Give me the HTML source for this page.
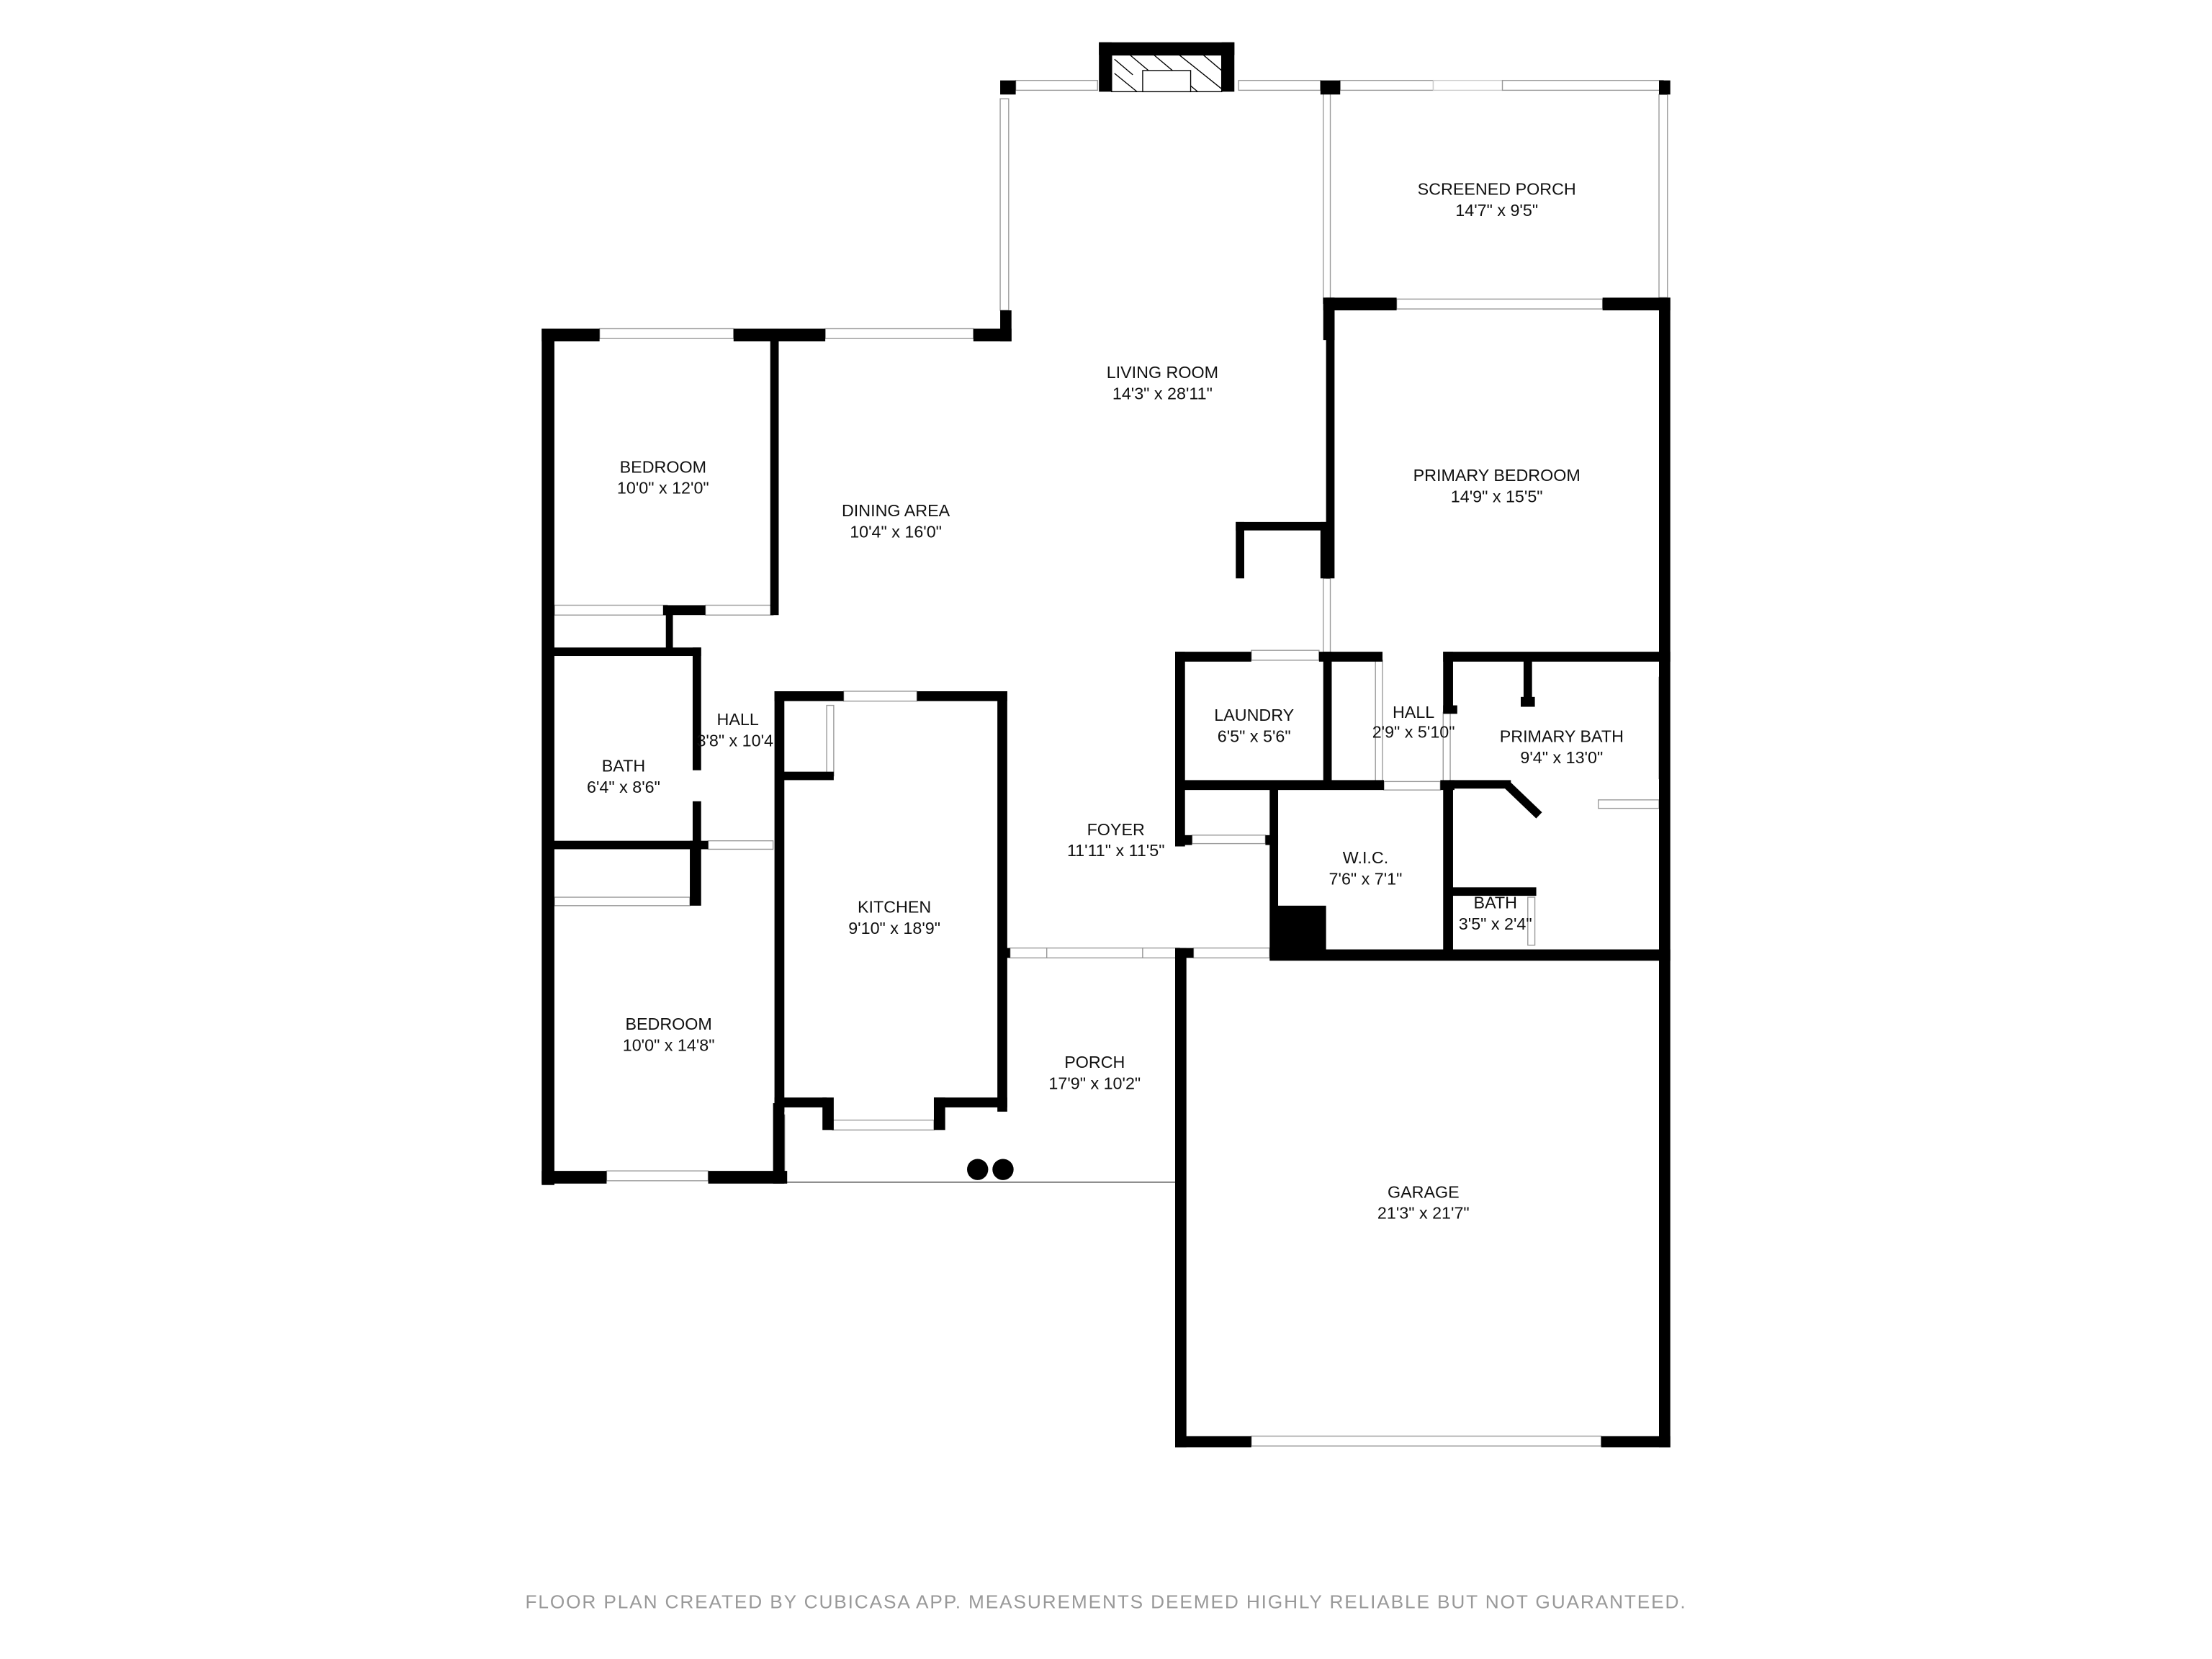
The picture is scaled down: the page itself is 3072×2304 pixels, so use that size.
<!DOCTYPE html>
<html><head><meta charset="utf-8"><style>
html,body{margin:0;padding:0;background:#fff;}
svg{display:block;}
text{font-family:"Liberation Sans",Arial,sans-serif;fill:#111;}
</style></head><body>
<svg width="3072" height="2304" viewBox="0 0 1568 1176" preserveAspectRatio="none" xmlns="http://www.w3.org/2000/svg">
<rect width="1568" height="1176" fill="#fff"/>
<g fill="#fff" stroke="#999" stroke-width="0.7">
<rect x="720" y="57" width="58" height="7"/><rect x="878" y="57" width="58" height="7"/>
<rect x="950" y="57" width="66" height="7"/><rect x="1016" y="57" width="49" height="7" stroke="#ccc"/><rect x="1065" y="57" width="114" height="7"/>
<rect x="709" y="70" width="6" height="150"/>
<rect x="1176" y="67" width="6" height="144"/>
<rect x="990" y="212" width="146" height="7"/>
<rect x="425" y="233" width="95" height="7"/><rect x="585" y="233" width="105" height="7"/>
<rect x="393" y="429" width="80" height="7"/><rect x="500" y="429" width="48" height="7"/>
<rect x="386" y="527" width="6" height="39"/>
<rect x="502" y="596" width="46" height="6"/>
<rect x="393" y="636" width="96" height="6"/>
<rect x="598" y="490" width="52" height="7"/><rect x="586" y="500" width="5" height="50"/>
<rect x="590" y="794" width="72" height="7"/>
<rect x="430" y="830" width="72" height="7"/>
<rect x="716" y="672" width="26" height="7"/><rect x="742" y="672" width="68" height="7"/><rect x="810" y="672" width="26" height="7"/><rect x="846" y="672" width="54" height="7"/>
<rect x="887" y="461" width="48" height="7"/>
<rect x="845" y="592" width="52" height="6"/>
<rect x="975" y="468" width="5" height="86"/><rect x="1023" y="505" width="5" height="50"/>
<rect x="981" y="554" width="40" height="6"/>
<rect x="1176" y="480" width="6" height="72"/>
<rect x="1133" y="567" width="43" height="6"/>
<rect x="1083" y="636" width="5" height="34"/>
<rect x="887" y="1018" width="248" height="7"/>
<rect x="938" y="65" width="5" height="150"/><rect x="938" y="410" width="5" height="55"/>
</g>
<line x1="556" y1="838" x2="836" y2="838" stroke="#777" stroke-width="1"/>
<line x1="556" y1="790" x2="556" y2="838" stroke="#777" stroke-width="1"/>
<g fill="#000">
<rect x="779" y="30" width="96" height="9"/><rect x="779" y="30" width="9" height="35"/><rect x="866" y="30" width="9" height="35"/>
<rect x="709" y="57" width="11" height="10"/><rect x="936" y="57" width="14" height="10"/><rect x="1176" y="57" width="8" height="10"/>
<rect x="709" y="220" width="8" height="22"/><rect x="690" y="233" width="27" height="9"/>
<rect x="520" y="233" width="65" height="9"/><rect x="384" y="233" width="41" height="9"/>
<rect x="384" y="233" width="9" height="607"/>
<rect x="546" y="233" width="6" height="203"/>
<rect x="470" y="429" width="30" height="7"/><rect x="472" y="429" width="5" height="33"/>
<rect x="389" y="459" width="108" height="6"/>
<rect x="491" y="459" width="6" height="87"/><rect x="491" y="568" width="6" height="34"/>
<rect x="389" y="596" width="113" height="6"/>
<rect x="489" y="596" width="8" height="46"/>
<rect x="384" y="830" width="46" height="9"/><rect x="502" y="830" width="56" height="9"/>
<rect x="548" y="782" width="8" height="57"/>
<rect x="549" y="490" width="49" height="7"/><rect x="650" y="490" width="64" height="7"/>
<rect x="549" y="490" width="7" height="298"/><rect x="707" y="490" width="7" height="298"/>
<rect x="552" y="547" width="39" height="6"/>
<rect x="549" y="778" width="37" height="7"/><rect x="583" y="778" width="8" height="23"/>
<rect x="662" y="778" width="52" height="7"/><rect x="662" y="778" width="8" height="23"/>
<rect x="709" y="672" width="7" height="7"/><rect x="836" y="672" width="10" height="7"/>
<rect x="833" y="672" width="8" height="354"/>
<rect x="900" y="673" width="284" height="8"/>
<rect x="1176" y="211" width="8" height="815"/>
<rect x="833" y="1018" width="54" height="8"/><rect x="1135" y="1018" width="49" height="8"/>
<rect x="938" y="211" width="52" height="9"/><rect x="1136" y="211" width="48" height="9"/>
<rect x="938" y="211" width="8" height="30"/><rect x="940" y="211" width="6" height="199"/>
<rect x="876" y="370" width="67" height="6"/><rect x="876" y="370" width="6" height="40"/><rect x="936" y="370" width="7" height="40"/>
<rect x="833" y="462" width="54" height="7"/><rect x="935" y="462" width="45" height="7"/>
<rect x="833" y="462" width="7" height="138"/>
<rect x="938" y="462" width="6" height="96"/>
<rect x="836" y="553" width="145" height="7"/>
<rect x="1021" y="553" width="10" height="7"/>
<rect x="900" y="556" width="6" height="122"/>
<rect x="836" y="592" width="9" height="7"/><rect x="897" y="592" width="9" height="7"/>
<rect x="903" y="642" width="37" height="36"/>
<rect x="1023" y="462" width="161" height="7"/><rect x="1023" y="462" width="7" height="43"/><rect x="1023" y="500" width="10" height="6"/>
<rect x="1080" y="466" width="6" height="34"/><rect x="1078" y="494" width="10" height="7"/>
<rect x="1023" y="555" width="7" height="123"/>
<rect x="1027" y="553" width="44" height="6"/>
<rect x="1027" y="629" width="62" height="6"/>
</g>
<line x1="1068" y1="556" x2="1091" y2="578" stroke="#000" stroke-width="6"/>
<g stroke="#000" stroke-width="0.7">
<rect x="788" y="39" width="78" height="26" fill="#fff"/>
<line x1="790" y1="42" x2="803" y2="53"/><line x1="790" y1="52" x2="806" y2="65"/>
<line x1="801" y1="39" x2="832" y2="65"/><line x1="818" y1="39" x2="849" y2="65"/><line x1="836" y1="39" x2="866" y2="63"/><line x1="853" y1="39" x2="866" y2="50"/>
<rect x="810" y="50" width="34" height="15" fill="#fff"/>
</g>
<circle cx="693" cy="829" r="7.5" fill="#000"/><circle cx="711" cy="829" r="7.5" fill="#000"/>
<g font-size="11.9" text-anchor="middle">
<text x="1061" y="138">SCREENED PORCH</text><text x="1061" y="153">14'7" x 9'5"</text>
<text x="824" y="268">LIVING ROOM</text><text x="824" y="283">14'3" x 28'11"</text>
<text x="470" y="335">BEDROOM</text><text x="470" y="350">10'0" x 12'0"</text>
<text x="635" y="366">DINING AREA</text><text x="635" y="381">10'4" x 16'0"</text>
<text x="1061" y="341">PRIMARY BEDROOM</text><text x="1061" y="356">14'9" x 15'5"</text>
<text x="523" y="514">HALL</text><text x="521" y="529">3'8" x 10'4</text>
<text x="442" y="547">BATH</text><text x="442" y="562">6'4" x 8'6"</text>
<text x="889" y="511">LAUNDRY</text><text x="889" y="526">6'5" x 5'6"</text>
<text x="1002" y="509">HALL</text><text x="1002" y="523">2'9" x 5'10"</text>
<text x="1107" y="526">PRIMARY BATH</text><text x="1107" y="541">9'4" x 13'0"</text>
<text x="634" y="647">KITCHEN</text><text x="634" y="662">9'10" x 18'9"</text>
<text x="791" y="592">FOYER</text><text x="791" y="607">11'11" x 11'5"</text>
<text x="968" y="612">W.I.C.</text><text x="968" y="627">7'6" x 7'1"</text>
<text x="1060" y="644">BATH</text><text x="1060" y="659">3'5" x 2'4"</text>
<text x="474" y="730">BEDROOM</text><text x="474" y="745">10'0" x 14'8"</text>
<text x="776" y="757">PORCH</text><text x="776" y="772">17'9" x 10'2"</text>
<text x="1009" y="849">GARAGE</text><text x="1009" y="864">21'3" x 21'7"</text>
</g>
<text x="784" y="1140" font-size="13.4" text-anchor="middle" style="fill:#999" letter-spacing="0.95">FLOOR PLAN CREATED BY CUBICASA APP. MEASUREMENTS DEEMED HIGHLY RELIABLE BUT NOT GUARANTEED.</text>
</svg>
</body></html>
